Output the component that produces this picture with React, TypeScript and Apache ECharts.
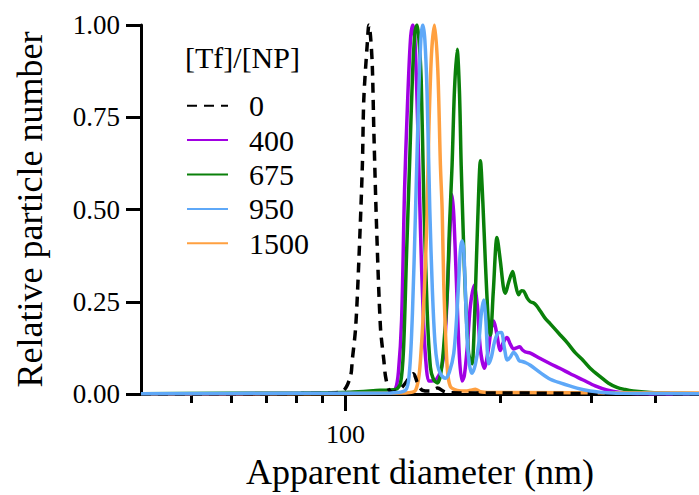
import React, { useEffect, useRef } from "react";
import * as echarts from "echarts";

// Legend / series names ([Tf]/[NP] ratio)
const seriesNames = ["0", "400", "675", "950", "1500"];
const seriesColors = ["#000000", "#A100E3", "#0A800A", "#5EA8F8", "#FFA040"];

// X axis ticks (apparent diameter, nm; log scale)
const xMin = 40;
const xMax = 486.8;
const xMinorTicks = [50, 60, 70, 80, 90, 200, 300, 400];
const xMajorTicks = [100];
// Y axis ticks
const yTicks = [0, 0.25, 0.5, 0.75, 1.0];

// [Tf]/[NP] = 0
const d0 = [40, 81.8, 93.5, 99.2, 102.3, 103.0, 104.6, 106.1, 107.8, 108.5, 110.2, 111.0, 111.8, 112.7, 113.5, 114.9, 116.9, 118.7, 119.6, 121.4, 123.4, 127.9, 130.8, 133.7, 135.5, 138.0, 141.1, 146.2, 150.9, 156.4, 167.2, 200, 250.1, 342, 486.8];
const v0 = [0, 0.001, 0.002, 0.01, 0.05, 0.09, 0.18, 0.36, 0.62, 0.80, 0.95, 1.0, 0.97, 0.89, 0.71, 0.45, 0.18, 0.09, 0.047, 0.012, 0.005, 0.015, 0.03, 0.05, 0.055, 0.03, 0.01, 0.008, 0.016, 0.005, 0.003, 0.003, 0.002, 0.001, 0];

// [Tf]/[NP] = 400
const d400 = [40, 81.8, 116.9, 122.3, 125.1, 126.7, 128.5, 130.2, 131.9, 133.7, 135.1, 136.4, 138.0, 139.8, 141.7, 143.6, 145.1, 146.9, 150.2, 153.6, 155.7, 157.8, 159.9, 161.1, 162.4, 164.3, 166.5, 168.5, 170.2, 172.5, 174.9, 178.0, 180.4, 182.9, 186.2, 189.5, 192.1, 194.1, 196.4, 200.0, 202.7, 206.1, 209.1, 212.2, 214.8, 218.0, 220.6, 223.6, 228.7, 239.1, 250.1, 261.5, 273.5, 289.8, 305.8, 322.2, 342.0, 374.0, 486.8];
const v400 = [0, 0.002, 0.005, 0.006, 0.015, 0.06, 0.2, 0.55, 0.78, 0.96, 1.0, 0.96, 0.75, 0.45, 0.2, 0.07, 0.035, 0.035, 0.04, 0.07, 0.13, 0.28, 0.47, 0.54, 0.48, 0.3, 0.1, 0.035, 0.05, 0.13, 0.24, 0.295, 0.24, 0.12, 0.07, 0.12, 0.18, 0.198, 0.17, 0.118, 0.14, 0.153, 0.135, 0.122, 0.125, 0.128, 0.12, 0.114, 0.111, 0.096, 0.082, 0.069, 0.055, 0.038, 0.022, 0.011, 0.004, 0.001, 0];

// [Tf]/[NP] = 675
const d675 = [40, 81.8, 102.3, 116.9, 125.1, 127.9, 129.6, 131.4, 133.3, 134.9, 136.4, 137.7, 138.9, 140.3, 141.9, 144.1, 146.2, 148.2, 150.7, 152.9, 155.0, 157.6, 159.2, 161.1, 162.8, 164.8, 166.5, 167.8, 169.5, 171.0, 173.5, 176.2, 177.2, 178.8, 180.8, 182.9, 184.9, 187.0, 189.8, 191.2, 193.8, 197.0, 200.0, 202.7, 204.5, 207.3, 211.3, 213.8, 217.0, 219.7, 221.9, 225.6, 228.7, 231.8, 234.9, 239.1, 244.5, 250.1, 261.5, 269.5, 279.6, 289.8, 299.0, 312.7, 324.1, 337.0, 349.7, 362.4, 391.1, 427.6, 486.8];
const v675 = [0.001, 0.003, 0.005, 0.01, 0.012, 0.03, 0.12, 0.38, 0.64, 0.86, 0.98, 1.0, 0.96, 0.85, 0.535, 0.225, 0.073, 0.04, 0.03, 0.05, 0.12, 0.27, 0.45, 0.62, 0.82, 0.934, 0.82, 0.62, 0.42, 0.27, 0.11, 0.082, 0.12, 0.27, 0.48, 0.632, 0.52, 0.357, 0.18, 0.16, 0.28, 0.424, 0.36, 0.29, 0.273, 0.3, 0.332, 0.3, 0.269, 0.28, 0.279, 0.26, 0.25, 0.247, 0.24, 0.225, 0.205, 0.19, 0.16, 0.14, 0.112, 0.091, 0.07, 0.047, 0.03, 0.018, 0.012, 0.008, 0.004, 0.002, 0.001];

// [Tf]/[NP] = 950
const d950 = [40, 81.8, 122.3, 130.8, 133.1, 134.9, 136.8, 138.8, 140.2, 141.3, 142.6, 144.0, 145.8, 147.5, 149.2, 150.9, 152.9, 155.0, 156.4, 159.2, 162.3, 164.3, 166.0, 167.2, 168.5, 169.9, 172.3, 174.1, 176.2, 178.8, 181.5, 183.7, 185.6, 187.4, 189.8, 192.1, 194.7, 197.8, 200.9, 203.6, 206.3, 209.1, 212.2, 214.8, 217.7, 220.6, 224.6, 228.7, 239.1, 250.1, 261.5, 281.8, 299.0, 312.7, 342.0, 486.8];
const v950 = [0.001, 0.002, 0.003, 0.01, 0.06, 0.22, 0.5, 0.82, 0.97, 1.0, 0.96, 0.82, 0.5, 0.28, 0.14, 0.08, 0.055, 0.045, 0.043, 0.06, 0.11, 0.2, 0.31, 0.39, 0.415, 0.38, 0.154, 0.08, 0.056, 0.08, 0.136, 0.22, 0.255, 0.2, 0.082, 0.1, 0.14, 0.165, 0.167, 0.125, 0.092, 0.1, 0.113, 0.105, 0.09, 0.088, 0.084, 0.078, 0.058, 0.04, 0.03, 0.016, 0.008, 0.005, 0.002, 0.001];

// [Tf]/[NP] = 1500
const d1500 = [40, 81.8, 130.8, 134.9, 136.8, 138.6, 139.8, 141.4, 143.0, 144.1, 145.1, 146.9, 148.9, 151.1, 152.9, 154.1, 155.2, 157.6, 159.9, 164.8, 171.0, 174.9, 178.8, 182.9, 191.2, 486.8];
const v1500 = [0.001, 0.001, 0.003, 0.005, 0.01, 0.04, 0.09, 0.2, 0.357, 0.5, 0.7, 0.92, 1.0, 0.88, 0.62, 0.5, 0.3, 0.073, 0.02, 0.01, 0.008, 0.01, 0.013, 0.006, 0.004, 0.003];

const allD = [d0, d400, d675, d950, d1500];
const allV = [v0, v400, v675, v950, v1500];

const FONT = "'Liberation Serif', 'Times New Roman', Times, serif";

export default function App() {
  const ref = useRef<HTMLDivElement>(null);

  useEffect(() => {
    if (!ref.current) return;
    const chart = echarts.init(ref.current, null, { renderer: "svg" });

    const makeSeries = (i: number) => ({
      name: seriesNames[i],
      type: "line",
      xAxisIndex: 0,
      yAxisIndex: 0,
      showSymbol: false,
      symbol: "none",
      smooth: 0.3,
      data: allD[i].map((d, j) => [d, allV[i][j]]),
      lineStyle: {
        color: seriesColors[i],
        width: 3.5,
        type: i === 0 ? [10, 7] : "solid",
      },
      itemStyle: { color: seriesColors[i] },
      z: 2,
    });

    // draw order (bottom to top): 400, 675, 1500, 0, 950
    const order = [1, 2, 4, 0, 3];

    const option: any = {
      animation: false,
      backgroundColor: "#ffffff",
      textStyle: { fontFamily: FONT },
      grid: { left: 141, right: 0, top: 25, bottom: 94, containLabel: false },
      title: {
        text: "[Tf]/[NP]",
        left: 185,
        top: 42,
        padding: 0,
        textStyle: { fontFamily: FONT, fontSize: 30, fontWeight: "normal", color: "#000" },
      },
      legend: {
        data: seriesNames,
        orient: "vertical",
        left: 186,
        top: 88.7,
        padding: 0,
        itemWidth: 41,
        itemHeight: 14,
        itemGap: 0.4,
        itemStyle: { opacity: 0 },
        textStyle: {
          fontFamily: FONT,
          fontSize: 30,
          color: "#000",
          lineHeight: 34,
          padding: [0, 0, 0, 16],
        },
      },
      xAxis: [
        {
          type: "log",
          logBase: 10,
          min: xMin,
          max: xMax,
          position: "bottom",
          gridIndex: 0,
          name: "Apparent diameter (nm)",
          nameLocation: "middle",
          nameGap: 63,
          nameTextStyle: { fontFamily: FONT, fontSize: 36, color: "#000", lineHeight: 30 },
          axisLine: { show: true, lineStyle: { color: "#000", width: 3 } },
          axisTick: {
            show: true,
            inside: false,
            length: 9,
            lineStyle: { color: "#000", width: 3 },
            customValues: xMinorTicks,
          },
          axisLabel: { show: false },
          splitLine: { show: false },
          minorTick: { show: false },
        },
        {
          type: "log",
          logBase: 10,
          min: xMin,
          max: xMax,
          position: "bottom",
          gridIndex: 0,
          axisLine: { show: false },
          axisTick: {
            show: true,
            inside: false,
            length: 17,
            lineStyle: { color: "#000", width: 3 },
            customValues: xMajorTicks,
          },
          axisLabel: {
            show: true,
            customValues: xMajorTicks,
            margin: 29,
            lineHeight: 22,
            fontFamily: FONT,
            fontSize: 26,
            color: "#000",
            formatter: (v: number) => String(Math.round(v)),
          },
          splitLine: { show: false },
        },
      ],
      yAxis: {
        type: "value",
        min: 0,
        max: 1,
        interval: 0.25,
        name: "Relative particle number",
        nameLocation: "middle",
        nameGap: 93,
        nameTextStyle: { fontFamily: FONT, fontSize: 36, color: "#000" },
        axisLine: { show: true, lineStyle: { color: "#000", width: 3 } },
        axisTick: {
          show: true,
          inside: false,
          length: 15,
          lineStyle: { color: "#000", width: 3 },
          customValues: yTicks,
        },
        axisLabel: {
          margin: 21,
          fontFamily: FONT,
          fontSize: 27,
          color: "#000",
          customValues: yTicks,
          formatter: (v: number) => v.toFixed(2),
        },
        splitLine: { show: false },
      },
      series: order.map((i) => makeSeries(i)),
    };

    chart.setOption(option);
    return () => chart.dispose();
  }, []);

  return (
    <div
      ref={ref}
      style={{ position: "fixed", left: 0, top: 0, width: 699, height: 495, background: "#fff" }}
    />
  );
}
